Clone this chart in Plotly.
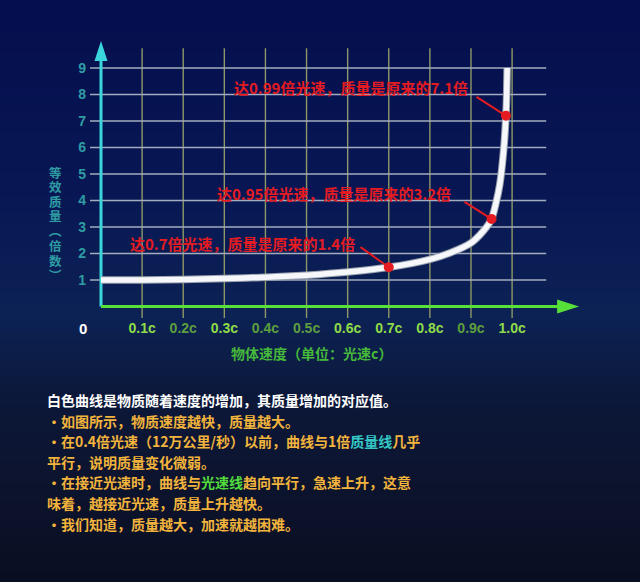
import base64
import struct
import zlib
import plotly.graph_objects as go

# speed (fraction of c) and relative mass
speed = [0.0, 0.1, 0.2, 0.3, 0.4, 0.5, 0.6, 0.7, 0.8, 0.85, 0.9, 0.93, 0.95, 0.96, 0.97, 0.98, 0.985, 0.987, 0.988]
mass = [1.0, 1.0, 1.02, 1.06, 1.1, 1.18, 1.3, 1.48, 1.78, 2.03, 2.4, 2.85, 3.3, 3.85, 4.6, 6.0, 7.2, 8.1, 9.0]

# the three red points and their notes
mark_speed = [0.70, 0.95, 0.985]
mark_mass = [1.48, 3.3, 7.2]
mark_text = ["达0.7倍光速，质量是原来的1.4倍",
             "达0.95倍光速，质量是原来的3.2倍",
             "达0.99倍光速，质量是原来的7.1倍"]

x_ticks = [0.1, 0.2, 0.3, 0.4, 0.5, 0.6, 0.7, 0.8, 0.9, 1.0]
x_labels = ["0.1c", "0.2c", "0.3c", "0.4c", "0.5c", "0.6c", "0.7c", "0.8c", "0.9c", "1.0c"]
x_label_bright = [True, False, True, False, False, True, True, True, False, True]
y_ticks = [1, 2, 3, 4, 5, 6, 7, 8, 9]
y_title = "等效质量︵倍数︶"
x_title = "物体速度（单位：光速c）"

notes = [
    ("白色曲线是物质随着速度的增加，其质量增加的对应值。", "#ffffff"),
    ("・如图所示，物质速度越快，质量越大。", None),
    ("・在0.4倍光速（12万公里/秒）以前，曲线与1倍<span style='color:#35c6c6'>质量线</span>几乎", None),
    ("平行，说明质量变化微弱。", None),
    ("・在接近光速时，曲线与<span style='color:#52dc3c'>光速线</span>趋向平行，急速上升，这意", None),
    ("味着，越接近光速，质量上升越快。", None),
    ("・我们知道，质量越大，加速就越困难。", None),
]

GOLD = "#f2b43c"
RED = "#e41c22"
TEAL = "#2f9ca4"
CJK = "Noto Sans CJK SC"
LAT = "Liberation Sans"

# plot area in page pixels
L, R, T, B = 90, 585, 36, 318
X0, XS = 101.0, 411.1      # px of v=0, px per 1c
Y0, YS = 306.5, 26.5       # px of m=0, px per unit


def vx(px):
    return (px - X0) / XS


def my(py):
    return (Y0 - py) / YS


def paper_x(px):
    return (px - L) / (R - L)


def paper_y(py):
    return (B - py) / (B - T)


def gradient_png(stops, h=290):
    raw = b""
    for i in range(h):
        t = i / (h - 1)
        for (t0, c0), (t1, c1) in zip(stops, stops[1:]):
            if t0 <= t <= t1:
                f = (t - t0) / (t1 - t0)
                rgb = [round(a + (b - a) * f) for a, b in zip(c0, c1)]
                break
        raw += b"\x00" + bytes(rgb)

    def chunk(tag, data):
        return struct.pack(">I", len(data)) + tag + data + struct.pack(">I", zlib.crc32(tag + data) & 0xffffffff)

    png = (b"\x89PNG\r\n\x1a\n" + chunk(b"IHDR", struct.pack(">IIBBBBB", 1, h, 8, 2, 0, 0, 0))
           + chunk(b"IDAT", zlib.compress(raw)) + chunk(b"IEND", b""))
    return "data:image/png;base64," + base64.b64encode(png).decode()


bg = gradient_png([(0.0, (5, 14, 78)), (0.35, (8, 24, 84)), (0.55, (12, 34, 84)),
                   (0.68, (12, 24, 58)), (0.85, (12, 19, 44)), (1.0, (10, 14, 34))])

fig = go.Figure()

# grid: vertical lines (olive) and horizontal lines (grey), running past the axes as ticks
gx, gy = [], []
for v in x_ticks:
    gx += [v, v, None]
    gy += [my(B), 9.75, None]
fig.add_trace(go.Scatter(x=gx, y=gy, mode="lines", line=dict(color="#8e9866", width=1.4),
                         hoverinfo="skip", showlegend=False))
hx, hy = [], []
for m in y_ticks:
    hx += [vx(L), 1.083, None]
    hy += [m, m, None]
fig.add_trace(go.Scatter(x=hx, y=hy, mode="lines", line=dict(color="#a2acbe", width=1.4),
                         hoverinfo="skip", showlegend=False))

# axis lines with arrow heads
fig.add_trace(go.Scatter(x=[0, 0], y=[0, my(56)], mode="lines", line=dict(color="#3ad6dc", width=3),
                         hoverinfo="skip", showlegend=False))
fig.add_trace(go.Scatter(x=[0, vx(560)], y=[0, 0], mode="lines", line=dict(color="#58e03a", width=3),
                         hoverinfo="skip", showlegend=False))
fig.add_trace(go.Scatter(x=[0], y=[my(41)], mode="markers", cliponaxis=False,
                         marker=dict(symbol="arrow", size=21, angle=0, color="#3ad6dc"),
                         hoverinfo="skip", showlegend=False))
fig.add_trace(go.Scatter(x=[vx(579)], y=[0], mode="markers", cliponaxis=False,
                         marker=dict(symbol="arrow", size=23, angle=90, color="#58e03a"),
                         hoverinfo="skip", showlegend=False))

# the white mass curve
fig.add_trace(go.Scatter(x=speed, y=mass, mode="lines", line=dict(color="#9aa2b0", width=7.5, shape="spline", smoothing=0.6),
                         hoverinfo="skip", showlegend=False))
fig.add_trace(go.Scatter(x=speed, y=mass, mode="lines", line=dict(color="#f6f7fa", width=5.5, shape="spline", smoothing=0.6),
                         showlegend=False))

# red points
fig.add_trace(go.Scatter(x=mark_speed, y=mark_mass, mode="markers",
                         marker=dict(color=RED, size=10), showlegend=False))

ann = []
# red notes and leader lines
note_pos = [(242, 243), (334, 193), (351, 87)]
tail_pos = [(359, 246), (463, 201), (475, 96)]
for txt, (px, py), (tx, ty), v, m in zip(mark_text, note_pos, tail_pos, mark_speed, mark_mass):
    ann.append(dict(x=vx(px), y=my(py), xref="x", yref="y", xanchor="center", yanchor="middle",
                    text=txt, showarrow=False,
                    font=dict(family=CJK, size=15, color=RED, weight="bold")))
    ann.append(dict(x=v, y=m, ax=vx(tx), ay=my(ty), xref="x", yref="y", axref="x", ayref="y", text="",
                    showarrow=True, arrowhead=0, arrowwidth=2, arrowcolor=RED, standoff=4))

# origin label and axis titles
ann.append(dict(x=paper_x(83), y=paper_y(328), xref="paper", yref="paper", text="0", showarrow=False,
                xanchor="center", yanchor="middle",
                font=dict(family=LAT, size=15, color="#ffffff", weight="bold")))
ann.append(dict(x=paper_x(311), y=paper_y(353), xref="paper", yref="paper", text=x_title,
                xanchor="center", yanchor="middle",
                showarrow=False, font=dict(family=CJK, size=14, color="#46b83a", weight="bold")))
# vertical title, one character per row
for i, ch in enumerate(y_title):
    ann.append(dict(x=paper_x(55), y=paper_y(173 + i * 14.7), xref="paper", yref="paper",
                    xanchor="center", yanchor="middle", text=ch, showarrow=False, borderpad=0,
                    font=dict(family=LAT + ", " + CJK, size=12.5, color=TEAL, weight="bold")))

# explanation text below the chart
for i, (line, color) in enumerate(notes):
    ann.append(dict(x=paper_x(45), y=paper_y(400 + i * 20.6), xref="paper", yref="paper",
                    xanchor="left", yanchor="middle",
                    text=line, showarrow=False, align="left",
                    font=dict(family=CJK, size=14, color=color or GOLD, weight="bold")))

tick_text = ["<span style='color:%s'>%s</span>" % ("#8fdc48" if b else "#5f9e3e", t)
             for t, b in zip(x_labels, x_label_bright)]

fig.update_layout(
    width=640, height=582,
    margin=dict(l=L, r=640 - R, t=T, b=582 - B),
    paper_bgcolor="#0a1540", plot_bgcolor="rgba(0,0,0,0)",
    images=[dict(source=bg, xref="paper", yref="paper", x=paper_x(0), y=paper_y(0),
                 sizex=640 / (R - L), sizey=582 / (B - T), sizing="stretch", layer="below")],
    annotations=ann,
    showlegend=False,
)
fig.update_xaxes(range=[vx(L), vx(R)], tickvals=x_ticks, ticktext=tick_text, showgrid=False, zeroline=False,
                 showline=False, ticks="", tickfont=dict(family=LAT, size=14, weight="bold"))
fig.update_yaxes(range=[my(B), my(T)], tickvals=y_ticks, showgrid=False, zeroline=False, showline=False,
                 ticks="", ticklabelstandoff=3, tickfont=dict(family=LAT, size=14, color=TEAL, weight="bold"))

fig.write_html("out.html", config={"displayModeBar": False},
               post_script="document.body.style.margin='0';document.body.style.background='#0a1230';")
